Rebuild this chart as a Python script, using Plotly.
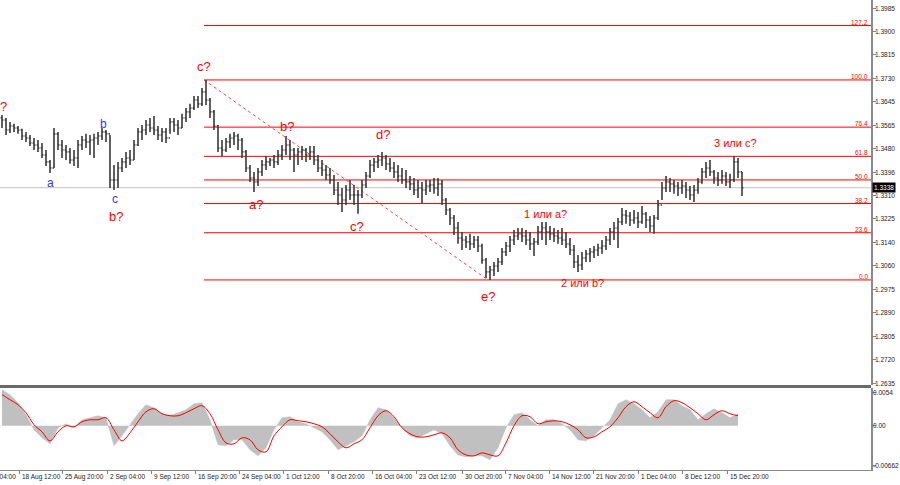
import numpy as np
import plotly.graph_objects as go

# ---------------- price bars (H4) ----------------
bar_open = [
    1.3590, 1.3582, 1.3546, 1.3560, 1.3553, 1.3546, 1.3524, 1.3517, 1.3499, 1.3492,
    1.3481, 1.3456, 1.3431, 1.3409, 1.3532, 1.3492, 1.3474, 1.3467, 1.3438, 1.3445,
    1.3492, 1.3510, 1.3503, 1.3510, 1.3517, 1.3524, 1.3539, 1.3532, 1.3366, 1.3366,
    1.3409, 1.3431, 1.3445, 1.3438, 1.3492, 1.3539, 1.3546, 1.3564, 1.3553, 1.3546,
    1.3528, 1.3539, 1.3517, 1.3575, 1.3564, 1.3553, 1.3589, 1.3611, 1.3625, 1.3654,
    1.3640, 1.3683, 1.3654, 1.3611, 1.3560, 1.3481, 1.3474, 1.3503, 1.3517, 1.3524,
    1.3510, 1.3467, 1.3409, 1.3373, 1.3359, 1.3395, 1.3420, 1.3431, 1.3438, 1.3431,
    1.3456, 1.3474, 1.3492, 1.3474, 1.3456, 1.3467, 1.3474, 1.3456, 1.3467, 1.3438,
    1.3409, 1.3402, 1.3384, 1.3366, 1.3330, 1.3312, 1.3294, 1.3330, 1.3312, 1.3312,
    1.3312, 1.3348, 1.3380, 1.3420, 1.3431, 1.3438, 1.3445, 1.3424, 1.3409, 1.3395,
    1.3380, 1.3366, 1.3359, 1.3352, 1.3330, 1.3337, 1.3330, 1.3344, 1.3348, 1.3337,
    1.3352, 1.3294, 1.3258, 1.3229, 1.3193, 1.3157, 1.3150, 1.3143, 1.3136, 1.3150,
    1.3128, 1.3078, 1.3035, 1.3042, 1.3056, 1.3071, 1.3107, 1.3128, 1.3150, 1.3164,
    1.3172, 1.3164, 1.3150, 1.3136, 1.3143, 1.3179, 1.3193, 1.3179, 1.3172, 1.3164,
    1.3157, 1.3150, 1.3136, 1.3114, 1.3071, 1.3060, 1.3085, 1.3100, 1.3107, 1.3114,
    1.3121, 1.3128, 1.3150, 1.3179, 1.3193, 1.3215, 1.3240, 1.3236, 1.3222, 1.3229,
    1.3215, 1.3244, 1.3222, 1.3200, 1.3229, 1.3276, 1.3337, 1.3359, 1.3352, 1.3344,
    1.3337, 1.3344, 1.3330, 1.3312, 1.3330, 1.3359, 1.3395, 1.3409, 1.3395, 1.3373,
    1.3366, 1.3380, 1.3359, 1.3366, 1.3431, 1.3395,
]
bar_high = [
    1.3600, 1.3589, 1.3575, 1.3568, 1.3560, 1.3550, 1.3539, 1.3528, 1.3517, 1.3510,
    1.3499, 1.3474, 1.3438, 1.3553, 1.3539, 1.3510, 1.3492, 1.3481, 1.3474, 1.3510,
    1.3524, 1.3532, 1.3528, 1.3532, 1.3539, 1.3553, 1.3546, 1.3528, 1.3420, 1.3431,
    1.3445, 1.3467, 1.3474, 1.3510, 1.3553, 1.3564, 1.3582, 1.3589, 1.3596, 1.3560,
    1.3553, 1.3553, 1.3589, 1.3589, 1.3582, 1.3604, 1.3625, 1.3640, 1.3668, 1.3668,
    1.3697, 1.3726, 1.3661, 1.3618, 1.3564, 1.3510, 1.3517, 1.3532, 1.3539, 1.3532,
    1.3517, 1.3474, 1.3420, 1.3395, 1.3409, 1.3438, 1.3452, 1.3445, 1.3456, 1.3474,
    1.3492, 1.3524, 1.3510, 1.3481, 1.3481, 1.3488, 1.3481, 1.3488, 1.3488, 1.3456,
    1.3438, 1.3420, 1.3409, 1.3384, 1.3359, 1.3337, 1.3348, 1.3366, 1.3348, 1.3330,
    1.3366, 1.3395, 1.3438, 1.3445, 1.3456, 1.3467, 1.3456, 1.3445, 1.3431, 1.3420,
    1.3409, 1.3402, 1.3380, 1.3373, 1.3366, 1.3359, 1.3366, 1.3366, 1.3373, 1.3373,
    1.3366, 1.3301, 1.3265, 1.3240, 1.3215, 1.3179, 1.3164, 1.3172, 1.3164, 1.3164,
    1.3136, 1.3085, 1.3056, 1.3071, 1.3085, 1.3121, 1.3143, 1.3164, 1.3186, 1.3193,
    1.3193, 1.3186, 1.3179, 1.3157, 1.3200, 1.3215, 1.3215, 1.3200, 1.3193, 1.3186,
    1.3193, 1.3179, 1.3157, 1.3132, 1.3096, 1.3107, 1.3114, 1.3121, 1.3128, 1.3136,
    1.3150, 1.3164, 1.3193, 1.3215, 1.3229, 1.3265, 1.3258, 1.3251, 1.3258, 1.3251,
    1.3272, 1.3251, 1.3236, 1.3240, 1.3294, 1.3359, 1.3380, 1.3373, 1.3366, 1.3359,
    1.3366, 1.3359, 1.3344, 1.3348, 1.3373, 1.3409, 1.3431, 1.3438, 1.3402, 1.3395,
    1.3402, 1.3395, 1.3388, 1.3452, 1.3445, 1.3395,
]
bar_low = [
    1.3553, 1.3528, 1.3535, 1.3539, 1.3532, 1.3510, 1.3503, 1.3488, 1.3474, 1.3467,
    1.3445, 1.3416, 1.3391, 1.3409, 1.3474, 1.3445, 1.3438, 1.3424, 1.3416, 1.3409,
    1.3474, 1.3481, 1.3456, 1.3445, 1.3492, 1.3510, 1.3503, 1.3337, 1.3330, 1.3337,
    1.3395, 1.3409, 1.3420, 1.3438, 1.3488, 1.3510, 1.3528, 1.3539, 1.3528, 1.3510,
    1.3503, 1.3499, 1.3532, 1.3539, 1.3528, 1.3553, 1.3575, 1.3589, 1.3618, 1.3625,
    1.3632, 1.3636, 1.3589, 1.3546, 1.3467, 1.3452, 1.3467, 1.3481, 1.3492, 1.3474,
    1.3445, 1.3395, 1.3359, 1.3323, 1.3344, 1.3380, 1.3402, 1.3416, 1.3409, 1.3420,
    1.3438, 1.3456, 1.3438, 1.3395, 1.3420, 1.3438, 1.3431, 1.3438, 1.3420, 1.3395,
    1.3380, 1.3366, 1.3352, 1.3312, 1.3276, 1.3251, 1.3276, 1.3294, 1.3276, 1.3244,
    1.3301, 1.3337, 1.3373, 1.3395, 1.3409, 1.3416, 1.3402, 1.3395, 1.3373, 1.3359,
    1.3352, 1.3337, 1.3330, 1.3312, 1.3301, 1.3280, 1.3312, 1.3323, 1.3316, 1.3308,
    1.3276, 1.3240, 1.3204, 1.3168, 1.3136, 1.3114, 1.3121, 1.3114, 1.3121, 1.3107,
    1.3064, 1.3013, 1.3006, 1.3020, 1.3035, 1.3060, 1.3092, 1.3107, 1.3132, 1.3150,
    1.3143, 1.3132, 1.3114, 1.3092, 1.3132, 1.3150, 1.3132, 1.3150, 1.3143, 1.3136,
    1.3132, 1.3121, 1.3096, 1.3049, 1.3035, 1.3042, 1.3071, 1.3071, 1.3085, 1.3092,
    1.3100, 1.3114, 1.3132, 1.3150, 1.3121, 1.3204, 1.3208, 1.3200, 1.3208, 1.3193,
    1.3208, 1.3193, 1.3179, 1.3172, 1.3222, 1.3294, 1.3323, 1.3323, 1.3316, 1.3308,
    1.3316, 1.3301, 1.3294, 1.3287, 1.3316, 1.3352, 1.3373, 1.3380, 1.3352, 1.3344,
    1.3352, 1.3344, 1.3337, 1.3359, 1.3373, 1.3308,
]
bar_close = [
    1.3582, 1.3546, 1.3560, 1.3553, 1.3546, 1.3524, 1.3517, 1.3499, 1.3492, 1.3481,
    1.3456, 1.3431, 1.3409, 1.3532, 1.3492, 1.3474, 1.3467, 1.3438, 1.3445, 1.3492,
    1.3510, 1.3503, 1.3510, 1.3517, 1.3524, 1.3539, 1.3532, 1.3366, 1.3366, 1.3409,
    1.3431, 1.3445, 1.3438, 1.3492, 1.3539, 1.3546, 1.3564, 1.3553, 1.3546, 1.3528,
    1.3539, 1.3517, 1.3575, 1.3564, 1.3553, 1.3589, 1.3611, 1.3625, 1.3654, 1.3640,
    1.3683, 1.3654, 1.3611, 1.3560, 1.3481, 1.3474, 1.3503, 1.3517, 1.3524, 1.3510,
    1.3467, 1.3409, 1.3373, 1.3359, 1.3395, 1.3420, 1.3431, 1.3438, 1.3431, 1.3456,
    1.3474, 1.3492, 1.3474, 1.3456, 1.3467, 1.3474, 1.3456, 1.3467, 1.3438, 1.3409,
    1.3402, 1.3384, 1.3366, 1.3330, 1.3312, 1.3294, 1.3330, 1.3312, 1.3312, 1.3312,
    1.3348, 1.3380, 1.3420, 1.3431, 1.3438, 1.3445, 1.3424, 1.3409, 1.3395, 1.3380,
    1.3366, 1.3359, 1.3352, 1.3330, 1.3337, 1.3330, 1.3344, 1.3348, 1.3337, 1.3352,
    1.3294, 1.3258, 1.3229, 1.3193, 1.3157, 1.3150, 1.3143, 1.3136, 1.3150, 1.3128,
    1.3078, 1.3035, 1.3042, 1.3056, 1.3071, 1.3107, 1.3128, 1.3150, 1.3164, 1.3172,
    1.3164, 1.3150, 1.3136, 1.3143, 1.3179, 1.3193, 1.3179, 1.3172, 1.3164, 1.3157,
    1.3150, 1.3136, 1.3114, 1.3071, 1.3060, 1.3085, 1.3100, 1.3107, 1.3114, 1.3121,
    1.3128, 1.3150, 1.3179, 1.3193, 1.3215, 1.3240, 1.3236, 1.3222, 1.3229, 1.3215,
    1.3244, 1.3222, 1.3200, 1.3229, 1.3276, 1.3337, 1.3359, 1.3352, 1.3344, 1.3337,
    1.3344, 1.3330, 1.3312, 1.3330, 1.3359, 1.3395, 1.3409, 1.3395, 1.3373, 1.3366,
    1.3380, 1.3359, 1.3366, 1.3431, 1.3395, 1.3338,
]

# ---------------- oscillator (every second bar) ----------------
hist_values = [
    0.00594, 0.00512, 0.00380, 0.00182, -0.00066, -0.00198, -0.00297, -0.00033, 0.00033, -0.00033,
    0.00099, 0.00132, 0.00165, 0.00132, -0.00330, -0.00165, 0.00017, 0.00198, 0.00347, 0.00297,
    0.00198, 0.00165, 0.00215, 0.00264, 0.00363, 0.00380, 0.00099, -0.00314, -0.00330, -0.00231,
    -0.00231, -0.00396, -0.00495, -0.00363, -0.00066, 0.00132, 0.00149, 0.00066, 0.00033, -0.00033,
    -0.00099, -0.00231, -0.00396, -0.00330, -0.00264, -0.00165, 0.00099, 0.00297, 0.00264, 0.00132,
    -0.00033, -0.00165, -0.00198, -0.00132, -0.00066, -0.00132, -0.00330, -0.00479, -0.00512, -0.00495,
    -0.00495, -0.00561, -0.00363, -0.00033, 0.00182, 0.00215, 0.00099, 0.00000, 0.00099, 0.00099,
    0.00033, -0.00066, -0.00231, -0.00248, -0.00165, -0.00033, 0.00099, 0.00363, 0.00429, 0.00363,
    0.00264, 0.00132, 0.00231, 0.00429, 0.00429, 0.00330, 0.00264, 0.00099, 0.00198, 0.00281,
    0.00215, 0.00132, 0.00198,
]
signal_values = [
    0.00512, 0.00429, 0.00347, 0.00215, 0.00017, -0.00099, -0.00248, -0.00099, 0.00000, -0.00017,
    0.00066, 0.00099, 0.00099, 0.00132, -0.00066, -0.00248, -0.00116, 0.00066, 0.00231, 0.00281,
    0.00198, 0.00165, 0.00165, 0.00215, 0.00281, 0.00330, 0.00198, -0.00066, -0.00281, -0.00297,
    -0.00198, -0.00231, -0.00396, -0.00429, -0.00165, -0.00017, 0.00099, 0.00083, 0.00066, 0.00033,
    -0.00017, -0.00132, -0.00264, -0.00363, -0.00297, -0.00231, -0.00033, 0.00165, 0.00248, 0.00149,
    -0.00033, -0.00132, -0.00182, -0.00182, -0.00149, -0.00116, -0.00198, -0.00396, -0.00479, -0.00495,
    -0.00446, -0.00479, -0.00495, -0.00281, 0.00000, 0.00165, 0.00149, 0.00033, 0.00066, 0.00083,
    0.00066, 0.00017, -0.00066, -0.00198, -0.00182, -0.00099, -0.00017, 0.00132, 0.00314, 0.00396,
    0.00314, 0.00215, 0.00132, 0.00314, 0.00413, 0.00380, 0.00297, 0.00198, 0.00099, 0.00182,
    0.00248, 0.00198, 0.00165,
]

# ---------------- axes text ----------------
price_tick_labels = ["1.3985", "1.3900", "1.3815", "1.3730", "1.3645", "1.3565", "1.3480",
                     "1.3396", "1.3310", "1.3225", "1.3140", "1.3060", "1.2975", "1.2890",
                     "1.2805", "1.2720", "1.2635"]
osc_tick_labels = ["0.0054", "0.00", "-0.00662"]
osc_tick_values = [0.0054, 0.0, -0.00662]
time_labels = ["11 Aug 04:00", "18 Aug 12:00", "25 Aug 20:00", "2 Sep 04:00", "9 Sep 12:00",
               "16 Sep 20:00", "24 Sep 04:00", "1 Oct 12:00", "8 Oct 20:00", "16 Oct 04:00",
               "23 Oct 12:00", "30 Oct 20:00", "7 Nov 04:00", "14 Nov 12:00", "21 Nov 20:00",
               "1 Dec 04:00", "8 Dec 12:00", "15 Dec 20:00"]
time_label_bars = [-6.75, 4.25, 15.0, 26.25, 37.25, 48.25, 59.25, 70.25, 81.5, 92.5,
                   103.5, 115.0, 125.75, 136.75, 147.75, 159.0, 170.0, 181.25]

# ---------------- Fibonacci grid and wave marks ----------------
fib_levels = [0.0, 23.6, 38.2, 50.0, 61.8, 76.4, 100.0, 127.2]
swing_high, swing_high_bar = 1.3726, 51
swing_low, swing_low_bar = 1.3006, 122
current_price = 1.3338

wave_text = ["?", "c?", "b?", "a?", "c?", "d?", "e?", "b?", "1 или a?", "2 или b?", "3 или c?", "a", "b", "c"]
wave_bar = [0.4, 50.5, 71.25, 63.5, 88.75, 95.25, 121.5, 28.5, 135.75, 145.0, 183.25, 12.0, 25.25, 28.25]
wave_price = [1.3632, 1.3773, 1.3557, 1.3276, 1.3200, 1.3528, 1.2945, 1.3236, 1.3244, 1.2995, 1.3499,
              1.3355, 1.3568, 1.3298]
wave_color = ["red"] * 11 + ["blue"] * 3

# ---------------- figure ----------------
RED = "#ff0000"
BLUE = "#3434ff"
FONT = "Liberation Sans, Arial, sans-serif"
x_min, x_max = -0.5, 217.25
y_min, y_max = 1.26278, 1.40138
osc_min, osc_max = -0.00728, 0.00622

bar_index = list(range(len(bar_close)))
ind_index = bar_index[::2][:len(hist_values)]
price_tick_values = list(np.linspace(1.3985, 1.2635, len(price_tick_labels)))

fig = go.Figure()
fig.add_trace(go.Scatter(
    x=ind_index, y=hist_values, mode="lines", fill="tozeroy", fillcolor="#c0c0c0",
    line=dict(color="#c0c0c0", width=0.5),
    xaxis="x2", yaxis="y2", hoverinfo="skip"))
fig.add_trace(go.Scatter(
    x=ind_index, y=signal_values, mode="lines",
    line=dict(color=RED, width=1, shape="spline"),
    xaxis="x2", yaxis="y2", hoverinfo="skip"))
fig.add_trace(go.Ohlc(
    x=bar_index, open=bar_open, high=bar_high, low=bar_low, close=bar_close,
    increasing=dict(line=dict(color="#3a3a3a", width=1.6)),
    decreasing=dict(line=dict(color="#3a3a3a", width=1.6)),
    tickwidth=0.35, xaxis="x", yaxis="y", hoverinfo="skip"))

shapes = []
annotations = []
fib_prices = [swing_low + lvl / 100.0 * (swing_high - swing_low) for lvl in fib_levels]
for lvl, fp in zip(fib_levels, fib_prices):
    shapes.append(dict(type="line", xref="x", yref="y", x0=swing_high_bar - 0.5, x1=x_max,
                       y0=fp, y1=fp, line=dict(color=RED, width=1), layer="below"))
    annotations.append(dict(xref="paper", yref="y", x=1, y=fp, xanchor="right", yanchor="bottom",
                            xshift=-1, yshift=-2, text=f"{lvl:.1f}", showarrow=False,
                            font=dict(family=FONT, size=6.5, color=RED)))
shapes.append(dict(type="line", xref="x", yref="y", x0=swing_high_bar - 0.5, y0=swing_high,
                   x1=swing_low_bar - 0.5, y1=swing_low,
                   line=dict(color="#ff4040", width=1, dash="dot"), layer="below"))
shapes.append(dict(type="line", xref="paper", yref="y", x0=0, x1=1, y0=current_price, y1=current_price,
                   line=dict(color="#c4c4c4", width=1), layer="below"))
sep_y = 1 - 386.5 / 470
shapes.append(dict(type="line", xref="paper", yref="paper", x0=0, x1=1, y0=sep_y, y1=sep_y,
                   line=dict(color="#6a6a6a", width=3)))

tick_font = dict(family=FONT, size=6.5, color="#222222")
for t, v in zip(price_tick_labels, price_tick_values):
    annotations.append(dict(xref="paper", yref="y", x=1, y=v, xanchor="left", yanchor="middle",
                            xshift=3, text=t, showarrow=False, font=tick_font, borderpad=0))
for t, v in zip(osc_tick_labels, osc_tick_values):
    annotations.append(dict(xref="paper", yref="y2", x=1, y=v, xanchor="left", yanchor="middle",
                            xshift=1, text=t, showarrow=False, font=tick_font, borderpad=0))

annotations.append(dict(xref="paper", yref="y", x=1, y=current_price, xanchor="left", yanchor="middle",
                        xshift=1, text="1.3338", showarrow=False, bgcolor="black", borderpad=1,
                        font=dict(family=FONT, size=6.5, color="white")))

for t, b in zip(time_labels, time_label_bars):
    annotations.append(dict(xref="paper", yref="paper", x=(b - x_min) / (x_max - x_min), y=0,
                            xanchor="left", yanchor="top", xshift=1, yshift=-1, text=t,
                            showarrow=False, font=dict(family=FONT, size=6.5, color="#222222")))

for t, b, p, c in zip(wave_text, wave_bar, wave_price, wave_color):
    if c == "blue":
        f = dict(family=FONT, size=12, color=BLUE)
    elif len(t) > 2:
        f = dict(family=FONT, size=11, color=RED)
    else:
        f = dict(family=FONT, size=13, color=RED)
    annotations.append(dict(xref="x", yref="y", x=b, y=p, text=t, showarrow=False,
                            xanchor="center", yanchor="middle", font=f))

fig.update_layout(
    width=900, height=485, margin=dict(l=0, r=29, t=0, b=15),
    paper_bgcolor="white", plot_bgcolor="white", showlegend=False,
    xaxis=dict(domain=[0, 1], range=[x_min, x_max], anchor="y", showticklabels=False,
               showgrid=False, zeroline=False, showline=False, ticks="",
               rangeslider=dict(visible=False), fixedrange=True),
    yaxis=dict(domain=[1 - 385 / 470, 1], range=[y_min, y_max], anchor="x", side="right",
               tickvals=price_tick_values, showticklabels=False, ticks="outside", ticklen=3,
               tickcolor="#808080", showline=True, linecolor="#8a8a8a", linewidth=2,
               showgrid=False, zeroline=False, fixedrange=True),
    xaxis2=dict(domain=[0, 1], range=[x_min, x_max], anchor="y2", showticklabels=False,
                tickvals=time_label_bars, ticks="outside", ticklen=3, tickcolor="#808080",
                showline=True, linecolor="#8a8a8a", linewidth=1, showgrid=False, zeroline=False,
                fixedrange=True),
    yaxis2=dict(domain=[0, 1 - 388 / 470], range=[osc_min, osc_max], anchor="x2", side="right",
                tickvals=osc_tick_values, showticklabels=False, ticks="outside", ticklen=3,
                tickcolor="#808080", showline=True, linecolor="#8a8a8a", linewidth=2,
                showgrid=False, zeroline=False, fixedrange=True),
    shapes=shapes, annotations=annotations,
)

fig.write_html("out.html", config={"displayModeBar": False},
               post_script="document.body.style.margin='0';document.body.style.overflow='hidden';")
